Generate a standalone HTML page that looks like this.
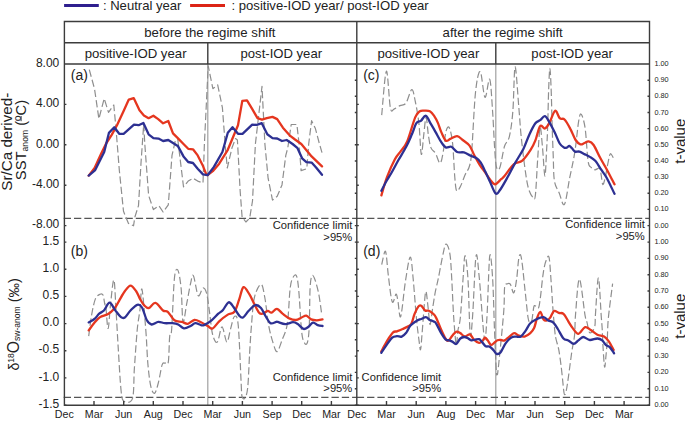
<!DOCTYPE html><html><head><meta charset="utf-8"><title>chart</title><style>
html,body{margin:0;padding:0;background:#fff;overflow:hidden;}svg{display:block;}
text{font-family:"Liberation Sans", sans-serif;fill:#222;}
</style></head><body>
<svg width="685" height="421" viewBox="0 0 685 421">
<line x1="64.1" y1="5.5" x2="98.8" y2="5.5" stroke="#2e1f8e" stroke-width="2.8"/>
<text x="102.9" y="9.8" font-size="13.1">: Neutral year</text>
<line x1="190.1" y1="5.5" x2="225" y2="5.5" stroke="#dc2416" stroke-width="2.8"/>
<text x="231.5" y="9.8" font-size="13.1">: positive-IOD year/ post-IOD year</text>
<text x="209.9" y="36.9" font-size="13.2" text-anchor="middle">before the regime shift</text>
<text x="502.7" y="36.9" font-size="13.2" text-anchor="middle">after the regime shift</text>
<text x="135.6" y="57.6" font-size="13.2" text-anchor="middle">positive-IOD year</text>
<text x="281.3" y="57.6" font-size="13.1" text-anchor="middle">post-IOD year</text>
<text x="428.4" y="57.6" font-size="13.2" text-anchor="middle">positive-IOD year</text>
<text x="572.1" y="57.6" font-size="13.1" text-anchor="middle">post-IOD year</text>
<line x1="207.8" y1="64.0" x2="207.8" y2="405.2" stroke="#a0a0a0" stroke-width="1.2"/>
<line x1="495.8" y1="64.0" x2="495.8" y2="405.2" stroke="#a0a0a0" stroke-width="1.2"/>
<line x1="63.7" y1="218.3" x2="356.8" y2="218.3" stroke="#555" stroke-width="1.3" stroke-dasharray="7.3 3"/>
<line x1="356.8" y1="218.3" x2="649.5" y2="218.3" stroke="#555" stroke-width="1.3" stroke-dasharray="7.3 3"/>
<line x1="63.7" y1="397.4" x2="356.8" y2="397.4" stroke="#555" stroke-width="1.3" stroke-dasharray="7.3 3"/>
<line x1="356.8" y1="397.4" x2="649.5" y2="397.4" stroke="#555" stroke-width="1.3" stroke-dasharray="7.3 3"/>
<polyline points="89.3,69.7 94.5,88.7 98.9,118.8 104.2,98.5 108.5,112.4 113.8,105.0 116.0,128.5 119.3,170.0 123.5,211.3 126.4,218.4 128.5,223.4 133.5,225.8 134.9,217.0 138.5,205.6 141.0,163.0 143.7,124.2 144.8,144.0 148.6,195.3 153.4,209.6 159.0,205.8 163.1,212.0 168.3,204.8 172.0,155.4 175.5,140.0 177.8,139.5 179.7,155.4 183.5,186.8 188.2,181.1 193.0,178.2 197.7,181.1 203.0,183.0 204.4,144.0 208.2,65.9 212.9,88.7 217.7,84.9 222.4,107.7 225.6,149.8 227.3,168.0 232.0,147.7 235.5,138.5 237.4,140.0 240.2,191.5 242.1,217.2 245.9,222.0 249.7,218.1 252.5,201.0 255.4,144.0 262.0,86.4 264.9,144.0 268.1,178.2 272.5,200.1 277.2,196.3 282.0,184.9 285.8,155.4 287.8,147.8 291.2,124.5 296.9,124.5 299.1,144.0 301.1,170.6 306.8,168.7 308.7,144.0 311.6,120.7 315.4,128.6 319.2,143.0 322.0,152.6" fill="none" stroke="#8e8e8e" stroke-width="1.2" stroke-dasharray="7.3 3.1" stroke-linejoin="round"/>
<path d="M88.7 336.1C89.2 332.6 90.5 321.4 91.6 315.2C92.7 309.0 94.0 302.4 95.4 298.9C96.8 295.4 98.8 294.8 100.1 294.2C101.4 293.6 102.2 293.4 103.0 295.1C103.8 296.8 104.4 302.8 104.9 304.6C105.4 306.4 105.3 301.7 105.8 305.7C106.3 309.7 107.3 328.8 108.1 328.5C108.9 328.2 109.6 311.9 110.6 303.8C111.5 295.7 112.9 279.9 113.8 279.9C114.7 279.9 115.0 292.5 115.7 303.8C116.4 315.1 117.3 333.0 118.2 347.5C119.1 362.0 120.1 381.8 121.1 390.8C122.0 399.8 122.0 400.0 123.9 401.3C125.8 402.6 130.8 403.9 132.5 398.4C134.2 392.8 133.6 379.4 134.4 368.0C135.2 356.6 136.3 339.8 137.2 330.0C138.1 320.2 139.2 316.3 140.0 309.5C140.8 302.7 141.0 286.0 142.0 289.4C143.0 292.8 144.8 317.7 145.8 330.0C146.8 342.3 147.0 353.7 147.8 363.0C148.6 372.3 149.6 380.7 150.7 385.8C151.8 390.9 153.2 393.9 154.5 393.4C155.8 392.9 157.0 387.8 158.3 383.0C159.6 378.2 161.0 368.2 162.1 364.9C163.2 361.6 163.9 363.5 164.9 363.0C165.9 362.5 167.5 366.5 168.3 362.1C169.1 357.7 169.1 341.8 169.7 336.4C170.2 331.0 170.8 339.6 171.6 330.0C172.4 320.4 173.4 288.5 174.4 278.5C175.4 268.5 176.7 268.4 177.8 270.0C178.9 271.6 180.2 279.3 181.1 288.0C182.0 296.7 182.1 319.7 183.0 322.2C183.9 324.7 185.5 309.7 186.8 303.2C188.1 296.7 189.5 287.9 190.6 283.3C191.7 278.7 192.1 273.6 193.4 275.7C194.7 277.8 196.6 293.6 198.2 295.6C199.8 297.7 201.5 288.3 202.9 288.0C204.3 287.7 205.6 289.6 206.7 293.7C207.8 297.8 208.6 305.9 209.6 312.7C210.6 319.5 211.3 329.6 212.6 334.5C213.9 339.4 215.7 343.4 217.3 342.1C218.9 340.8 220.4 326.9 222.0 326.9C223.6 326.9 225.4 341.8 226.8 342.1C228.2 342.4 229.3 333.1 230.6 328.8C231.9 324.5 233.1 317.1 234.4 316.5C235.7 315.9 237.1 314.1 238.2 325.0C239.3 335.9 240.5 370.1 241.1 382.0C241.7 393.9 241.4 393.6 242.0 396.3C242.6 399.0 244.0 399.6 244.9 398.2C245.8 396.8 246.9 395.1 247.7 387.7C248.5 380.2 249.0 363.9 249.6 353.5C250.2 343.1 250.7 334.3 251.5 325.0C252.3 315.7 252.8 304.3 254.4 297.5C256.0 290.7 259.3 284.2 261.0 284.2C262.7 284.2 263.5 290.7 264.8 297.5C266.1 304.3 267.2 317.2 268.6 325.0C270.0 332.8 272.0 339.6 273.4 344.0C274.8 348.4 275.8 352.2 277.2 351.6C278.6 351.0 280.3 344.8 282.0 340.2C283.7 335.6 285.9 332.5 287.3 323.8C288.7 315.1 289.2 295.7 290.2 288.0C291.1 280.3 292.0 279.7 293.0 277.6C294.0 275.6 295.4 273.6 296.4 275.7C297.3 277.8 297.8 280.6 298.7 289.9C299.6 299.2 300.7 322.6 301.6 331.4C302.6 340.2 303.4 340.9 304.4 342.8C305.3 344.7 306.5 345.3 307.3 342.8C308.1 340.3 308.7 336.7 309.2 327.6C309.7 318.5 309.6 296.6 310.1 288.0C310.6 279.4 311.2 277.1 312.0 275.7C312.8 274.3 313.8 276.5 314.9 279.5C316.0 282.5 317.6 288.2 318.7 293.7C319.8 299.2 321.0 309.5 321.5 312.7" fill="none" stroke="#8e8e8e" stroke-width="1.2" stroke-dasharray="7.3 3.1" stroke-linejoin="round"/>
<path d="M381.7 115.1C382.5 107.8 384.9 72.3 386.4 71.1C387.8 69.9 389.1 101.7 390.4 108.0C391.7 114.3 392.4 109.5 394.0 109.1C395.6 108.7 398.0 106.6 400.0 105.6C402.0 104.6 403.9 105.8 405.9 103.2C407.9 100.6 410.2 89.9 411.8 89.7C413.4 89.5 414.2 96.4 415.4 102.0C416.6 107.6 417.9 114.7 418.9 123.4C419.9 132.1 420.5 152.3 421.3 154.3C422.1 156.3 422.9 141.5 423.7 135.3C424.5 129.2 425.3 117.4 426.1 117.4C426.9 117.4 427.6 130.2 428.4 135.3C429.2 140.4 429.8 144.9 431.0 147.9C432.2 150.9 434.1 150.9 435.6 153.5C437.1 156.1 438.9 163.8 440.2 163.2C441.5 162.6 442.6 155.3 443.5 150.1C444.4 144.9 444.9 135.8 445.8 132.1C446.8 128.3 448.1 125.7 449.2 127.6C450.3 129.5 451.7 135.1 452.6 143.4C453.5 151.7 454.1 169.3 454.8 177.2C455.5 185.1 455.7 189.3 456.6 190.8C457.6 192.3 459.1 188.9 460.5 186.3C461.9 183.7 463.5 178.4 465.0 175.0C466.5 171.6 468.4 170.2 469.5 166.0C470.6 161.8 470.8 162.3 471.8 150.1C472.8 137.8 474.1 105.6 475.5 92.5C476.9 79.4 478.6 70.8 480.2 71.6C481.8 72.4 483.4 96.0 485.0 97.3C486.6 98.6 488.4 76.8 489.7 79.2C491.0 81.6 491.8 100.4 492.6 111.5C493.4 122.6 493.9 136.7 494.5 145.9C495.1 155.1 495.5 163.2 496.4 166.8C497.3 170.4 498.4 171.1 499.8 167.7C501.2 164.3 502.9 151.5 504.5 146.3C506.1 141.2 507.9 142.5 509.3 136.8C510.7 131.1 511.8 123.6 512.8 111.9C513.8 100.2 514.1 67.7 515.1 66.9C516.1 66.1 517.8 95.6 518.8 107.1C519.8 118.5 520.1 125.7 521.1 135.6C522.1 145.5 523.5 157.8 524.7 166.5C525.9 175.2 526.9 182.8 528.3 187.9C529.7 193.1 531.8 196.2 533.0 197.4C534.2 198.6 534.6 201.7 535.4 195.0C536.2 188.3 537.0 168.3 537.8 157.0C538.6 145.7 539.3 128.9 540.1 127.3C540.9 125.7 541.7 139.4 542.5 147.5C543.3 155.6 544.2 175.6 544.9 176.0C545.6 176.4 546.1 158.5 546.6 150.0C547.1 141.5 547.4 135.3 547.7 125.0C548.1 114.7 548.3 97.5 548.7 88.0C549.1 78.5 549.5 68.3 549.9 68.3C550.3 68.3 550.7 78.5 551.1 88.0C551.5 97.5 551.8 113.8 552.1 125.0C552.5 136.2 552.8 145.7 553.2 155.0C553.6 164.3 553.4 174.5 554.4 180.8C555.4 187.1 557.4 188.8 559.1 192.7C560.8 196.6 562.6 206.8 564.4 204.4C566.1 202.0 567.9 187.0 569.6 178.3C571.3 169.6 573.3 161.8 574.8 152.2C576.3 142.6 577.6 127.2 578.7 120.9C579.8 114.6 580.2 113.1 581.3 114.4C582.4 115.7 584.1 120.9 585.2 128.7C586.3 136.5 587.1 154.8 588.1 161.3C589.1 167.8 590.1 166.1 591.2 167.5C592.4 168.9 593.6 169.7 595.0 169.8C596.4 169.9 598.7 167.3 599.7 168.2C600.7 169.1 600.7 172.5 601.2 175.2C601.7 177.9 602.1 184.0 602.8 184.5C603.4 185.0 604.3 181.4 605.1 178.3C605.9 175.2 606.6 169.8 607.4 165.9C608.2 162.0 609.1 157.0 609.7 155.1C610.4 153.2 610.5 153.5 611.3 154.3C612.1 155.1 613.8 158.8 614.3 159.7" fill="none" stroke="#8e8e8e" stroke-width="1.2" stroke-dasharray="7.3 3.1" stroke-linejoin="round"/>
<path d="M381.7 264.7C382.3 262.5 384.4 249.5 385.5 251.4C386.6 253.3 387.3 267.7 388.4 276.1C389.5 284.5 390.9 298.8 392.2 301.8C393.5 304.8 395.1 294.4 396.0 294.2C396.9 294.0 397.1 297.1 397.9 300.8C398.7 304.5 399.4 319.8 400.7 316.5C402.0 313.2 403.9 290.8 405.5 280.9C407.1 271.0 408.9 257.6 410.2 257.1C411.5 256.6 412.1 267.9 413.1 278.0C414.1 288.1 415.4 307.2 416.4 318.0C417.4 328.8 418.6 337.5 419.3 342.7C420.0 347.9 420.1 351.0 420.6 349.4C421.1 347.8 421.5 340.0 422.1 333.2C422.7 326.4 423.4 315.5 424.0 308.5C424.6 301.5 425.2 291.4 425.9 291.4C426.6 291.4 427.5 302.9 428.2 308.5C428.9 314.1 429.4 324.7 430.1 324.7C430.8 324.7 431.7 314.1 432.6 308.5C433.5 302.9 434.4 296.5 435.4 291.4C436.4 286.3 437.1 284.4 438.4 278.0C439.7 271.6 441.9 258.9 443.2 253.3C444.5 247.7 444.9 244.2 446.0 244.2C447.1 244.2 448.9 247.7 449.8 253.3C450.8 258.9 451.1 267.6 451.7 278.0C452.3 288.4 452.9 304.9 453.6 316.0C454.4 327.1 455.5 342.6 456.2 344.9C456.9 347.2 457.3 334.5 458.0 330.0C458.7 325.5 459.4 326.7 460.3 318.0C461.2 309.3 462.3 288.4 463.1 278.0C463.9 267.6 464.2 255.6 465.0 255.6C465.8 255.6 467.0 264.9 467.9 278.0C468.8 291.1 469.4 328.1 470.2 334.4C471.0 340.7 471.6 329.0 472.6 316.0C473.6 303.0 474.9 262.5 476.0 256.2C477.1 249.9 477.9 264.4 479.3 278.0C480.7 291.6 483.0 331.0 484.3 337.7C485.6 344.4 486.0 331.6 486.9 318.0C487.8 304.4 488.8 262.9 489.7 256.2C490.6 249.5 491.8 265.7 492.6 278.0C493.4 290.3 493.9 314.8 494.5 330.0C495.1 345.2 495.8 361.6 496.2 369.0C496.6 376.4 496.6 374.8 497.0 374.5C497.4 374.2 497.3 377.4 498.4 367.0C499.5 356.6 502.7 325.1 503.7 311.9C504.7 298.6 504.0 292.2 504.6 287.5C505.2 282.8 506.6 284.2 507.5 283.7C508.4 283.1 509.2 282.7 510.3 284.2C511.4 285.7 512.7 293.8 513.8 292.8C514.9 291.9 515.9 284.1 516.7 278.5C517.5 272.9 518.0 263.4 518.6 259.5C519.2 255.6 519.9 253.9 520.5 254.8C521.1 255.8 521.6 259.0 522.4 265.2C523.2 271.4 524.2 283.0 525.2 291.8C526.2 300.6 527.3 313.0 528.1 318.0C528.9 323.0 529.6 321.6 530.2 322.0C530.8 322.4 531.3 322.7 531.9 320.2C532.5 317.7 533.2 309.4 533.8 307.0C534.4 304.6 534.9 305.9 535.7 306.1C536.5 306.3 537.7 309.4 538.5 308.0C539.3 306.6 539.6 303.4 540.4 297.5C541.2 291.6 542.3 279.0 543.3 272.8C544.2 266.6 545.1 263.1 546.1 260.5C547.1 257.9 548.2 254.2 549.0 257.2C549.8 260.2 550.3 270.2 550.9 278.5C551.5 286.8 552.2 298.4 552.8 307.0C553.4 315.6 554.2 324.8 554.7 330.0C555.2 335.2 555.2 335.2 555.9 338.5C556.6 341.8 557.9 345.5 558.8 349.9C559.6 354.3 560.3 359.5 561.0 365.0C561.7 370.5 562.4 377.8 562.9 382.7C563.4 387.6 563.8 392.7 564.3 394.1C564.8 395.5 565.5 394.1 566.2 391.0C566.9 387.9 567.7 382.1 568.6 375.6C569.5 369.1 570.8 358.6 571.8 351.8C572.8 345.0 574.0 341.0 574.6 334.7C575.2 328.4 574.8 323.1 575.6 313.8C576.4 304.5 577.8 278.7 579.4 279.0C581.0 279.3 583.8 308.5 585.1 315.7C586.4 322.9 586.2 319.5 587.0 322.4C587.8 325.2 588.5 332.0 589.8 332.8C591.1 333.6 593.6 330.3 594.6 327.1C595.6 323.9 594.9 322.0 595.5 313.8C596.1 305.6 597.4 277.7 598.4 278.0C599.4 278.3 600.6 307.2 601.2 315.7C601.8 324.2 601.9 323.6 602.2 329.0C602.5 334.4 602.7 341.7 603.1 348.0C603.5 354.3 604.1 365.7 604.6 367.0C605.1 368.3 605.5 360.4 606.0 355.6C606.5 350.9 606.9 344.8 607.3 338.5C607.7 332.2 607.5 326.7 608.4 317.6C609.3 308.5 611.9 289.4 612.6 283.7" fill="none" stroke="#8e8e8e" stroke-width="1.2" stroke-dasharray="7.3 3.1" stroke-linejoin="round"/>
<polyline points="88.7,175.6 94.6,168.0 101.0,154.1 106.4,143.0 111.7,134.9 117.0,125.3 123.4,111.4 128.8,99.6 133.7,98.1 139.5,110.3 143.9,115.5 148.6,118.2 153.4,115.7 158.2,119.1 163.1,123.3 168.3,121.0 173.0,133.4 177.8,138.1 183.5,144.0 188.2,148.8 193.0,149.3 197.7,155.4 202.5,164.9 206.3,174.4 207.6,175.2 212.8,171.2 219.2,163.7 227.8,149.8 233.1,137.0 238.0,125.3 242.3,100.9 247.0,100.3 252.3,109.2 257.5,118.2 262.0,119.7 266.8,118.2 272.5,116.9 277.2,119.1 282.9,127.7 289.6,135.3 295.0,139.5 301.3,144.0 311.6,156.4 322.0,166.4" fill="none" stroke="#e5361f" stroke-width="2.3" stroke-linejoin="round" stroke-linecap="round"/>
<polyline points="88.7,175.6 95.2,170.1 104.2,152.0 108.9,132.9 114.3,127.3 119.2,133.8 123.6,133.9 134.0,124.7 138.6,125.2 143.4,123.0 148.6,134.3 153.4,138.1 158.5,138.6 163.1,141.0 168.3,140.0 173.0,142.9 177.8,145.9 183.5,156.4 188.2,162.0 193.0,163.0 197.7,168.7 203.0,174.4 207.6,175.2 213.9,166.9 222.4,152.0 227.8,132.7 232.5,127.2 238.0,133.8 242.5,133.9 252.2,124.7 256.8,124.8 261.8,123.2 267.3,134.3 272.5,138.1 277.2,138.5 282.0,141.0 286.7,140.0 292.6,144.0 297.3,147.8 302.1,158.3 306.4,162.1 311.6,162.6 316.3,167.8 322.0,174.8" fill="none" stroke="#2d3092" stroke-width="2.3" stroke-linejoin="round" stroke-linecap="round"/>
<path d="M88.7 330.4C89.7 329.1 92.5 325.0 94.4 322.8C96.3 320.6 97.9 318.5 100.1 317.1C102.3 315.7 105.3 315.7 107.7 314.3C110.1 312.9 112.5 310.9 114.4 308.6C116.3 306.4 117.4 303.7 119.1 300.8C120.8 297.9 122.9 293.8 124.8 291.3C126.7 288.8 128.6 285.6 130.5 285.6C132.4 285.6 134.6 289.1 136.2 291.3C137.8 293.5 138.7 296.6 140.0 298.9C141.3 301.2 142.5 303.6 144.0 305.1C145.5 306.6 146.9 308.4 148.8 308.0C150.7 307.6 153.0 302.5 155.4 302.9C157.8 303.3 160.9 309.0 163.0 310.5C165.1 312.0 165.9 310.2 167.8 311.8C169.7 313.4 172.0 318.6 174.4 320.3C176.8 322.0 179.8 321.3 182.0 321.9C184.2 322.5 185.6 324.1 187.7 323.8C189.8 323.5 192.2 320.3 194.4 320.0C196.6 319.7 198.8 321.2 201.0 322.2C203.2 323.2 205.9 324.9 207.8 326.0C209.7 327.1 210.7 329.3 212.6 328.5C214.5 327.7 216.7 323.6 219.2 321.3C221.7 319.0 225.3 316.2 227.8 314.6C230.3 313.0 232.5 314.3 234.4 311.8C236.3 309.3 237.7 303.5 239.2 299.4C240.7 295.3 241.8 287.9 243.5 287.1C245.2 286.3 247.8 291.9 249.6 294.7C251.4 297.5 252.8 301.2 254.4 304.2C256.0 307.2 257.7 311.1 259.1 312.7C260.5 314.3 261.5 314.0 262.9 313.7C264.3 313.4 266.3 311.0 267.7 310.8C269.1 310.6 270.0 313.0 271.5 312.7C273.0 312.4 275.0 308.7 276.9 308.9C278.8 309.1 280.6 312.1 282.6 313.7C284.7 315.3 287.0 317.3 289.2 318.4C291.4 319.4 293.8 320.1 295.9 320.0C298.0 319.9 299.9 318.2 301.6 317.5C303.3 316.8 304.7 315.3 306.3 315.6C307.9 315.9 309.4 318.6 311.1 319.4C312.9 320.2 314.9 320.3 316.8 320.3C318.7 320.3 321.6 319.5 322.5 319.4" fill="none" stroke="#e5361f" stroke-width="2.3" stroke-linejoin="round" stroke-linecap="round"/>
<path d="M88.7 322.4C89.7 321.8 92.7 320.4 94.4 319.0C96.2 317.6 97.6 315.1 99.2 313.7C100.8 312.3 102.2 312.3 103.9 310.5C105.6 308.7 107.7 302.7 109.6 302.7C111.5 302.7 113.4 308.0 115.3 310.4C117.2 312.8 119.4 315.9 121.0 317.1C122.6 318.3 123.2 318.6 124.8 317.5C126.4 316.4 128.4 312.6 130.5 310.5C132.6 308.4 135.3 305.3 137.2 304.8C139.1 304.3 140.4 304.9 142.0 307.5C143.6 310.1 145.3 317.5 146.9 320.3C148.5 323.1 149.7 324.2 151.6 324.5C153.5 324.8 156.1 322.1 158.3 321.9C160.5 321.7 162.5 323.0 164.9 323.2C167.3 323.4 170.3 323.0 172.5 323.2C174.7 323.4 176.3 323.6 178.2 324.5C180.1 325.4 181.8 328.1 183.9 328.3C186.0 328.6 188.7 326.9 190.6 326.0C192.5 325.1 193.6 323.3 195.3 323.2C197.0 323.1 199.6 324.8 201.0 325.1C202.4 325.4 202.2 325.9 204.0 325.1C205.8 324.3 209.2 322.2 211.6 320.3C214.0 318.4 216.4 315.4 218.3 313.7C220.2 312.0 221.3 311.8 223.0 309.9C224.7 308.0 226.9 302.8 228.7 302.3C230.4 301.8 231.8 304.8 233.5 307.0C235.2 309.2 237.6 313.9 239.2 315.6C240.8 317.4 241.4 318.3 243.0 317.5C244.6 316.7 246.6 312.9 248.7 310.8C250.8 308.7 253.2 305.6 255.3 305.1C257.4 304.6 259.2 306.1 261.0 308.0C262.8 309.9 264.2 314.0 265.8 316.5C267.4 319.0 268.8 322.3 270.5 323.2C272.2 324.1 275.0 322.1 276.2 321.9C277.4 321.7 276.3 321.5 277.8 321.9C279.3 322.3 282.9 324.1 285.4 324.1C287.9 324.2 290.9 322.2 293.0 322.2C295.1 322.2 296.1 323.0 297.8 324.1C299.6 325.2 301.8 328.4 303.5 328.9C305.2 329.4 306.6 328.1 308.2 327.0C309.8 325.9 311.4 322.9 313.0 322.6C314.6 322.3 316.1 324.5 317.7 325.1C319.3 325.7 321.7 325.9 322.5 326.0" fill="none" stroke="#2d3092" stroke-width="2.3" stroke-linejoin="round" stroke-linecap="round"/>
<path d="M381.4 195.3C382.3 192.3 384.8 183.2 387.0 177.2C389.2 171.2 392.6 163.5 394.9 159.2C397.2 154.9 398.5 154.3 400.6 151.3C402.7 148.3 404.9 146.8 407.3 141.1C409.7 135.4 413.1 122.4 415.2 117.4C417.3 112.4 418.3 112.4 419.8 111.3C421.3 110.2 422.6 110.6 424.3 110.6C426.0 110.6 428.2 110.3 429.9 111.3C431.6 112.2 433.0 114.3 434.4 116.3C435.8 118.3 436.9 120.5 438.0 123.1C439.1 125.7 440.0 129.2 441.3 132.1C442.6 135.0 444.3 139.6 445.8 140.7C447.3 141.8 448.4 139.7 450.3 138.9C452.2 138.2 455.0 136.0 457.1 136.2C459.2 136.4 460.6 138.4 462.7 140.0C464.8 141.6 467.6 143.2 469.5 145.6C471.4 148.0 472.3 151.5 474.0 154.7C475.7 157.9 477.8 161.8 479.7 164.8C481.6 167.8 483.6 170.2 485.3 172.7C487.0 175.1 488.4 177.6 490.0 179.5C491.6 181.4 493.2 184.4 495.1 184.3C497.0 184.2 499.5 180.6 501.1 179.2C502.7 177.8 502.4 178.5 504.5 176.0C506.6 173.5 511.0 166.7 514.0 164.1C517.0 161.5 519.5 163.0 522.3 160.6C525.1 158.2 528.4 153.3 530.6 149.9C532.8 146.5 533.8 144.4 535.4 140.4C537.0 136.4 538.5 128.1 540.1 126.1C541.7 124.1 543.3 129.1 544.9 128.5C546.5 127.9 547.9 125.6 549.6 122.6C551.3 119.6 553.4 111.4 555.1 110.7C556.8 110.0 558.1 116.7 559.7 118.2C561.3 119.7 562.8 117.8 564.5 119.5C566.2 121.2 568.4 125.2 570.2 128.6C572.1 132.0 573.9 137.4 575.6 140.0C577.3 142.6 578.9 143.8 580.4 144.3C581.9 144.8 583.1 143.5 584.5 143.0C585.9 142.5 587.2 141.1 588.7 141.4C590.2 141.7 591.7 142.2 593.6 145.0C595.5 147.8 598.1 153.9 600.3 158.0C602.5 162.1 604.5 165.3 606.9 169.7C609.3 174.1 613.2 181.9 614.5 184.3" fill="none" stroke="#e5361f" stroke-width="2.3" stroke-linejoin="round" stroke-linecap="round"/>
<path d="M381.4 190.8C382.2 189.2 384.5 184.5 386.2 181.5C387.9 178.5 389.5 176.2 391.5 172.7C393.5 169.2 395.9 164.6 398.3 160.3C400.8 156.0 403.9 151.1 406.2 146.8C408.5 142.5 410.2 138.2 411.9 134.3C413.6 130.4 414.9 125.3 416.4 123.1C417.9 120.8 419.3 122.0 420.9 120.8C422.5 119.6 424.2 115.2 425.9 115.8C427.6 116.4 429.4 121.5 431.0 124.2C432.6 126.9 433.9 129.1 435.6 132.1C437.3 135.1 439.6 139.6 441.3 142.2C443.0 144.8 444.1 146.6 445.8 147.4C447.5 148.2 449.5 146.0 451.4 146.8C453.3 147.6 455.0 151.1 457.1 152.0C459.2 152.9 461.6 151.8 463.9 152.4C466.1 153.0 468.5 154.9 470.6 155.8C472.7 156.7 474.6 156.9 476.3 158.0C478.0 159.1 479.3 160.3 480.8 162.6C482.3 164.9 483.8 168.4 485.3 171.6C486.8 174.8 488.3 178.1 490.0 181.7C491.7 185.3 493.9 191.9 495.5 193.3C497.1 194.7 497.9 192.8 499.8 190.3C501.7 187.8 504.3 183.0 506.9 178.4C509.5 173.8 512.4 167.9 515.2 162.9C518.0 157.9 521.1 153.4 523.5 148.7C525.9 143.9 527.4 138.6 529.4 134.4C531.4 130.2 533.6 125.7 535.4 123.3C537.2 120.9 538.5 121.4 540.1 120.2C541.7 119.0 543.3 115.8 544.9 116.2C546.5 116.6 547.9 119.8 549.6 122.6C551.3 125.4 553.4 129.8 555.1 133.3C556.8 136.8 558.2 141.1 559.7 143.5C561.2 145.9 562.8 146.8 564.0 147.5C565.2 148.2 565.9 147.9 566.8 147.6C567.7 147.3 568.5 145.6 569.4 145.8C570.3 146.0 571.3 147.6 572.2 148.6C573.1 149.6 573.8 151.1 575.0 151.6C576.2 152.1 577.9 151.2 579.4 151.6C580.9 152.0 582.4 153.0 584.1 153.9C585.8 154.8 587.9 155.7 589.8 156.9C591.7 158.1 593.6 159.0 595.5 161.1C597.4 163.2 599.3 166.8 601.2 169.7C603.1 172.5 604.7 174.2 606.9 178.2C609.1 182.2 613.2 191.2 614.5 193.8" fill="none" stroke="#2d3092" stroke-width="2.3" stroke-linejoin="round" stroke-linecap="round"/>
<path d="M381.3 351.4C382.3 349.6 385.4 343.6 387.4 340.4C389.4 337.2 391.5 333.9 393.1 332.4C394.7 330.9 395.3 331.9 396.9 331.3C398.5 330.7 400.7 329.9 402.6 329.0C404.5 328.1 406.8 327.1 408.3 326.2C409.8 325.3 410.5 325.5 411.5 323.5C412.5 321.5 413.4 317.0 414.5 314.2C415.6 311.4 417.2 308.0 418.3 306.6C419.4 305.2 420.1 305.1 421.2 305.7C422.3 306.3 423.7 309.5 425.0 310.4C426.3 311.2 427.5 310.3 428.8 310.8C430.1 311.3 431.4 312.2 432.6 313.3C433.8 314.4 434.6 314.6 436.0 317.4C437.4 320.1 439.6 326.2 441.2 329.8C442.8 333.4 444.6 337.2 445.8 339.0C447.0 340.8 447.3 341.2 448.4 340.6C449.5 340.1 451.0 337.2 452.3 335.7C453.6 334.2 454.9 332.2 456.2 331.8C457.5 331.4 458.8 332.3 460.2 333.1C461.6 333.9 463.1 336.2 464.7 336.4C466.3 336.6 468.5 333.9 470.0 334.4C471.5 334.9 472.4 338.2 473.9 339.6C475.4 341.0 477.7 342.7 479.1 342.9C480.5 343.1 481.4 341.9 482.4 341.0C483.4 340.1 484.1 337.8 485.0 337.7C485.9 337.6 486.6 339.1 487.6 340.3C488.6 341.5 489.8 344.5 490.9 344.9C492.0 345.3 493.0 343.7 494.1 342.9C495.2 342.1 496.2 340.8 497.4 340.3C498.6 339.8 499.9 340.0 501.1 340.0C502.3 340.0 503.2 341.0 504.6 340.4C506.0 339.8 507.8 337.8 509.4 336.6C511.0 335.4 512.5 333.4 514.1 333.2C515.7 333.0 517.1 335.1 518.9 335.7C520.6 336.3 522.7 337.0 524.6 336.6C526.5 336.2 528.7 334.6 530.3 333.2C531.9 331.8 533.0 330.5 534.1 328.1C535.2 325.7 535.9 321.3 536.9 318.6C537.9 315.9 539.2 311.8 540.3 311.9C541.4 312.0 542.5 318.1 543.6 319.5C544.7 320.9 545.7 320.8 546.8 320.5C547.9 320.2 549.0 319.2 550.2 317.6C551.4 316.0 552.6 311.8 554.0 311.0C555.4 310.2 557.2 312.4 558.8 312.9C560.4 313.4 561.9 312.4 563.5 313.8C565.1 315.2 566.8 319.0 568.3 321.4C569.8 323.8 571.0 326.0 572.7 328.1C574.4 330.2 576.3 334.0 578.4 333.8C580.5 333.6 583.0 327.7 585.1 327.1C587.2 326.5 588.8 328.7 590.8 330.0C592.8 331.3 595.2 333.6 597.4 334.7C599.6 335.8 602.2 335.5 604.1 336.6C606.0 337.7 607.2 339.2 608.8 341.4C610.4 343.6 612.8 348.5 613.6 349.9" fill="none" stroke="#e5361f" stroke-width="2.3" stroke-linejoin="round" stroke-linecap="round"/>
<path d="M381.3 352.8C382.2 351.5 384.7 347.7 386.5 345.2C388.3 342.7 390.5 339.1 392.2 337.6C393.9 336.1 395.3 336.4 396.9 336.2C398.5 336.0 400.1 337.2 401.7 336.6C403.3 336.0 404.9 334.2 406.4 332.4C407.9 330.5 408.8 327.4 410.5 325.5C412.2 323.6 414.6 322.0 416.4 320.9C418.2 319.8 419.6 319.6 421.2 319.0C422.8 318.4 424.5 317.0 425.9 317.1C427.3 317.2 428.4 319.2 429.7 319.9C431.0 320.6 432.4 320.8 433.5 321.4C434.6 322.0 434.7 321.4 436.0 323.3C437.3 325.2 439.6 330.4 441.2 333.1C442.8 335.8 444.5 338.4 445.8 339.6C447.1 340.8 448.0 340.0 449.1 340.3C450.2 340.6 451.1 341.0 452.3 341.6C453.5 342.2 454.9 344.5 456.2 344.0C457.5 343.5 458.9 339.9 460.2 338.7C461.5 337.5 462.9 337.1 464.1 337.0C465.3 336.9 466.1 337.3 467.3 337.9C468.5 338.4 470.0 340.0 471.3 340.3C472.6 340.6 473.9 339.8 475.2 339.6C476.5 339.4 478.0 338.9 479.1 339.2C480.2 339.5 480.6 340.4 481.7 341.6C482.8 342.8 484.3 345.4 485.6 346.2C486.9 347.0 488.3 346.0 489.6 346.6C490.9 347.2 492.4 348.9 493.5 350.1C494.6 351.3 495.3 353.4 496.5 353.8C497.7 354.2 499.0 354.2 500.5 352.5C502.0 350.8 503.8 345.8 505.6 343.3C507.4 340.8 509.6 338.7 511.3 337.6C513.0 336.5 514.4 336.8 516.0 336.6C517.6 336.4 519.2 337.6 520.8 336.6C522.4 335.7 523.9 333.1 525.5 330.9C527.1 328.7 528.5 325.2 530.3 323.3C532.0 321.4 533.8 320.5 536.0 319.5C538.2 318.5 541.6 317.0 543.6 317.2C545.6 317.4 546.7 319.6 548.3 320.5C549.9 321.4 551.5 321.0 553.1 322.4C554.7 323.8 556.1 326.3 557.8 329.0C559.5 331.7 561.8 336.6 563.5 338.5C565.2 340.4 566.6 339.5 568.3 340.4C570.0 341.3 572.0 343.8 573.7 343.8C575.4 343.8 576.8 341.5 578.4 340.4C580.0 339.3 581.3 337.1 583.2 337.0C585.1 336.9 587.4 339.8 589.8 340.0C592.2 340.2 595.3 338.4 597.4 338.5C599.5 338.6 600.8 339.3 602.2 340.4C603.6 341.5 604.7 344.1 606.0 345.2C607.3 346.3 608.4 345.8 609.8 347.1C611.1 348.5 613.4 352.3 614.1 353.3" fill="none" stroke="#2d3092" stroke-width="2.3" stroke-linejoin="round" stroke-linecap="round"/>
<path d="M64.4 21.5H649.5V405.2H64.4ZM64.4 42.8H649.5M64.4 64.0H649.5M356.8 21.5V405.2M207.8 42.8V64.0M495.8 42.8V64.0M94.0 405.2V400.9M386.5 405.2V400.9M123.7 405.2V400.9M416.2 405.2V400.9M153.3 405.2V400.9M445.9 405.2V400.9M183.0 405.2V400.9M475.6 405.2V400.9M212.7 405.2V400.9M505.3 405.2V400.9M242.4 405.2V400.9M535.0 405.2V400.9M272.1 405.2V400.9M564.7 405.2V400.9M301.7 405.2V400.9M594.4 405.2V400.9M331.4 405.2V400.9M624.1 405.2V400.9M64.4 64.0h2M356.8 64.0h2M64.4 104.4h2M356.8 104.4h2M64.4 144.8h2M356.8 144.8h2M64.4 185.2h2M356.8 185.2h2M64.4 225.6h2M356.8 225.6h2M64.4 242.1h2M356.8 242.1h2M64.4 269.2h2M356.8 269.2h2M64.4 296.4h2M356.8 296.4h2M64.4 323.6h2M356.8 323.6h2M64.4 350.7h2M356.8 350.7h2M64.4 377.9h2M356.8 377.9h2M64.4 405.0h2M356.8 405.0h2M356.8 64.0h-2M649.5 64.0h-2M356.8 242.1h-2M649.5 242.1h-2M356.8 80.2h-2M649.5 80.2h-2M356.8 258.4h-2M649.5 258.4h-2M356.8 96.3h-2M649.5 96.3h-2M356.8 274.7h-2M649.5 274.7h-2M356.8 112.5h-2M649.5 112.5h-2M356.8 291.0h-2M649.5 291.0h-2M356.8 128.6h-2M649.5 128.6h-2M356.8 307.3h-2M649.5 307.3h-2M356.8 144.8h-2M649.5 144.8h-2M356.8 323.5h-2M649.5 323.5h-2M356.8 161.0h-2M649.5 161.0h-2M356.8 339.8h-2M649.5 339.8h-2M356.8 177.1h-2M649.5 177.1h-2M356.8 356.1h-2M649.5 356.1h-2M356.8 193.3h-2M649.5 193.3h-2M356.8 372.4h-2M649.5 372.4h-2M356.8 209.4h-2M649.5 209.4h-2M356.8 388.7h-2M649.5 388.7h-2M356.8 225.6h-2M649.5 225.6h-2M356.8 405.0h-2M649.5 405.0h-2" fill="none" stroke="#3c3c3c" stroke-width="1.4"/>
<text x="59.3" y="66.7" font-size="12" text-anchor="end">8.00</text>
<text x="59.3" y="107.1" font-size="12" text-anchor="end">4.00</text>
<text x="59.3" y="147.5" font-size="12" text-anchor="end">0.00</text>
<text x="59.3" y="187.9" font-size="12" text-anchor="end">-4.00</text>
<text x="59.3" y="228.3" font-size="12" text-anchor="end">-8.00</text>
<text x="59.3" y="244.8" font-size="12" text-anchor="end">1.5</text>
<text x="59.3" y="271.9" font-size="12" text-anchor="end">1.0</text>
<text x="59.3" y="299.1" font-size="12" text-anchor="end">0.5</text>
<text x="59.3" y="326.2" font-size="12" text-anchor="end">0.0</text>
<text x="59.3" y="353.4" font-size="12" text-anchor="end">-0.5</text>
<text x="59.3" y="380.6" font-size="12" text-anchor="end">-1.0</text>
<text x="59.3" y="407.7" font-size="12" text-anchor="end">-1.5</text>
<text x="654.4" y="66.0" font-size="7.3">1.00</text>
<text x="654.4" y="244.1" font-size="7.3">1.00</text>
<text x="654.4" y="82.2" font-size="7.3">0.90</text>
<text x="654.4" y="260.4" font-size="7.3">0.90</text>
<text x="654.4" y="98.3" font-size="7.3">0.80</text>
<text x="654.4" y="276.7" font-size="7.3">0.80</text>
<text x="654.4" y="114.5" font-size="7.3">0.70</text>
<text x="654.4" y="293.0" font-size="7.3">0.70</text>
<text x="654.4" y="130.6" font-size="7.3">0.60</text>
<text x="654.4" y="309.3" font-size="7.3">0.60</text>
<text x="654.4" y="146.8" font-size="7.3">0.50</text>
<text x="654.4" y="325.5" font-size="7.3">0.50</text>
<text x="654.4" y="163.0" font-size="7.3">0.40</text>
<text x="654.4" y="341.8" font-size="7.3">0.40</text>
<text x="654.4" y="179.1" font-size="7.3">0.30</text>
<text x="654.4" y="358.1" font-size="7.3">0.30</text>
<text x="654.4" y="195.3" font-size="7.3">0.20</text>
<text x="654.4" y="374.4" font-size="7.3">0.20</text>
<text x="654.4" y="211.4" font-size="7.3">0.10</text>
<text x="654.4" y="390.7" font-size="7.3">0.10</text>
<text x="654.4" y="227.6" font-size="7.3">0.00</text>
<text x="654.4" y="407.0" font-size="7.3">0.00</text>
<text x="64.3" y="418" font-size="10.7" text-anchor="middle">Dec</text>
<text x="356.8" y="418" font-size="10.7" text-anchor="middle">Dec</text>
<text x="94.0" y="418" font-size="10.7" text-anchor="middle">Mar</text>
<text x="386.5" y="418" font-size="10.7" text-anchor="middle">Mar</text>
<text x="123.7" y="418" font-size="10.7" text-anchor="middle">Jun</text>
<text x="416.2" y="418" font-size="10.7" text-anchor="middle">Jun</text>
<text x="153.3" y="418" font-size="10.7" text-anchor="middle">Aug</text>
<text x="445.9" y="418" font-size="10.7" text-anchor="middle">Aug</text>
<text x="183.0" y="418" font-size="10.7" text-anchor="middle">Dec</text>
<text x="475.6" y="418" font-size="10.7" text-anchor="middle">Dec</text>
<text x="212.7" y="418" font-size="10.7" text-anchor="middle">Mar</text>
<text x="505.3" y="418" font-size="10.7" text-anchor="middle">Mar</text>
<text x="242.4" y="418" font-size="10.7" text-anchor="middle">Jun</text>
<text x="535.0" y="418" font-size="10.7" text-anchor="middle">Jun</text>
<text x="272.1" y="418" font-size="10.7" text-anchor="middle">Sep</text>
<text x="564.7" y="418" font-size="10.7" text-anchor="middle">Sep</text>
<text x="301.7" y="418" font-size="10.7" text-anchor="middle">Dec</text>
<text x="594.4" y="418" font-size="10.7" text-anchor="middle">Dec</text>
<text x="331.4" y="418" font-size="10.7" text-anchor="middle">Mar</text>
<text x="624.1" y="418" font-size="10.7" text-anchor="middle">Mar</text>
<text x="70.8" y="80" font-size="14">(a)</text>
<text x="70.8" y="256" font-size="14">(b)</text>
<text x="363.2" y="80" font-size="14">(c)</text>
<text x="363.2" y="256" font-size="14">(d)</text>
<text x="352.3" y="229.1" font-size="11.2" text-anchor="end" fill="#333">Confidence limit</text>
<text x="352.3" y="240.7" font-size="11.2" text-anchor="end" fill="#333">&gt;95%</text>
<text x="644.8" y="228.4" font-size="11.2" text-anchor="end" fill="#333">Confidence limit</text>
<text x="644.8" y="240.0" font-size="11.2" text-anchor="end" fill="#333">&gt;95%</text>
<text x="352.3" y="380.5" font-size="11.2" text-anchor="end" fill="#333">Confidence limit</text>
<text x="352.3" y="392.1" font-size="11.2" text-anchor="end" fill="#333">&gt;95%</text>
<text x="441.2" y="380.6" font-size="11.2" text-anchor="end" fill="#333">Confidence limit</text>
<text x="441.2" y="392.2" font-size="11.2" text-anchor="end" fill="#333">&gt;95%</text>
<text transform="translate(11.6,141.7) rotate(-90)" font-size="15.2" text-anchor="middle">Sr/Ca derived-</text>
<text transform="translate(26.2,180.2) rotate(-90)" font-size="14.8" text-anchor="start">SST<tspan font-size="8.6" dy="2.2">anom</tspan><tspan dy="-2.2"> (ºC)</tspan></text>
<text transform="translate(18.9,370.6) rotate(-90)" font-size="14" text-anchor="start">δ<tspan font-size="8.6" dy="-5.3">18</tspan><tspan font-size="15.6" dy="5.3">O</tspan><tspan font-size="8.6" dy="1.5">sw-anom</tspan><tspan font-size="14.5" dy="-1.5" dx="4.0">(‰)</tspan></text>
<line x1="21.1" y1="116" x2="21.1" y2="121.2" stroke="#222" stroke-width="0.9"/>
<text transform="translate(684.8,141.2) rotate(-90)" font-size="15" text-anchor="middle">t-value</text>
<text transform="translate(684.8,316.2) rotate(-90)" font-size="15" text-anchor="middle">t-value</text>
</svg></body></html>
